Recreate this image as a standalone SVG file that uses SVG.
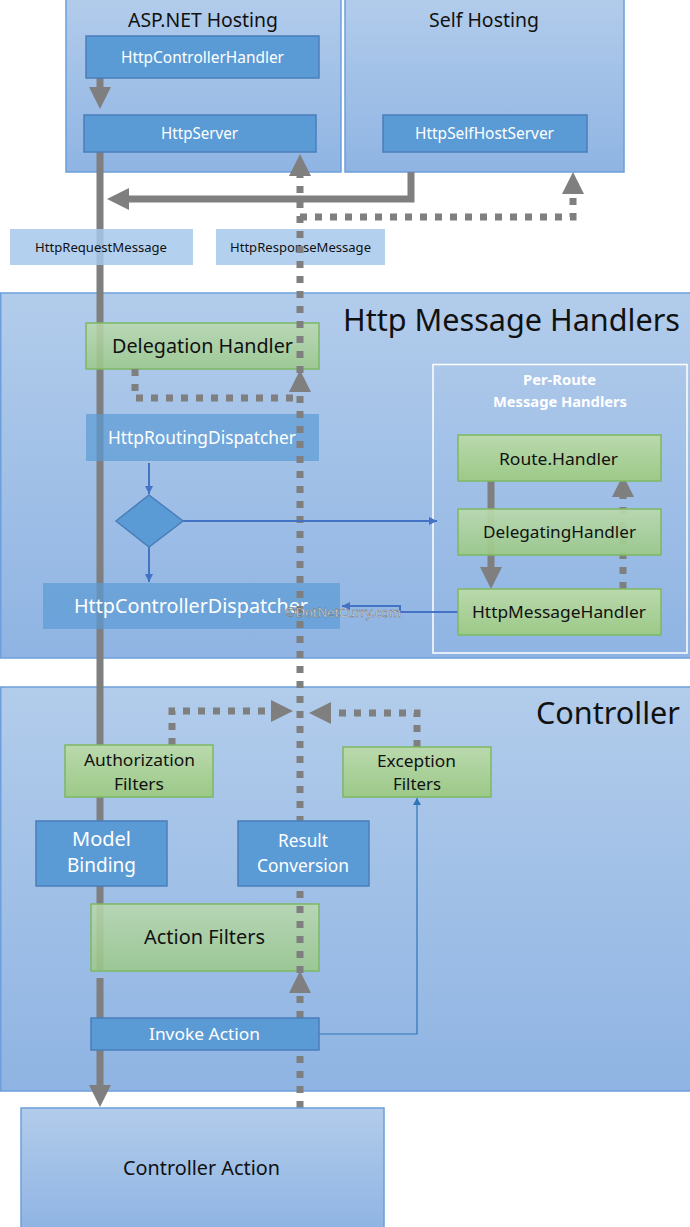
<svg xmlns="http://www.w3.org/2000/svg" xmlns:xlink="http://www.w3.org/1999/xlink" width="690" height="1227" viewBox="0 0 690 1227">
<defs>
<linearGradient id="gRegion" x1="0" y1="0" x2="0" y2="1">
<stop offset="0" stop-color="#b2cceb"/><stop offset="1" stop-color="#8fb4e3"/>
</linearGradient>
<linearGradient id="gGreen" x1="0" y1="0" x2="0" y2="1">
<stop offset="0" stop-color="#bad9ad"/><stop offset="1" stop-color="#9cc988"/>
</linearGradient>
<marker id="ah" markerUnits="userSpaceOnUse" markerWidth="22" markerHeight="22" viewBox="0 0 22 22" refX="0" refY="11" orient="auto">
<path d="M0,0 L22,11 L0,22 z" fill="#7f7f7f"/>
</marker>
<marker id="bh" markerUnits="userSpaceOnUse" markerWidth="8" markerHeight="8" viewBox="0 0 8 8" refX="8" refY="4" orient="auto">
<path d="M0,0 L8,4 L0,8 z" fill="#4472c4"/>
</marker>
<marker id="bh2" markerUnits="userSpaceOnUse" markerWidth="7" markerHeight="8" viewBox="0 0 7 8" refX="7" refY="4" orient="auto">
<path d="M0,0 L7,4 L0,8 z" fill="#2e75b6"/>
</marker>
<polygon id="headUp" points="-11,0 0,-22 11,0" fill="#7f7f7f"/>
<style>
.region{fill:url(#gRegion);stroke:#6c9fdc;stroke-width:1.5}
.blue{fill:#5b9bd5;stroke:#4a7ebb;stroke-width:1.5}
.blueSemi{fill:#5b9bd5;fill-opacity:0.7;stroke:none}
.green{fill:url(#gGreen);stroke:#7db863;stroke-width:1.5}
.greenSemi{fill:url(#gGreen);fill-opacity:0.85;stroke:#7db863;stroke-width:1.5}
.msg{fill:#a7c8ec;fill-opacity:0.85;stroke:none}
.solid{fill:none;stroke:#7f7f7f;stroke-width:7}
.dot{fill:none;stroke:#7f7f7f;stroke-width:7;stroke-dasharray:7 8}
.thin{fill:none;stroke:#4472c4;stroke-width:2}
.thin2{fill:none;stroke:#2e75b6;stroke-width:1.2}
text{font-family:"Noto Sans","Liberation Sans",sans-serif}
.t{fill:#111}
.w{fill:#ffffff}
</style>
</defs>

<g id="region-aspnet">
<rect class="region" x="66" y="-2" width="275" height="174"/>
<text class="t" x="128" y="27" font-size="20" textLength="150" lengthAdjust="spacingAndGlyphs">ASP.NET Hosting</text>
</g>
<g id="region-self">
<rect class="region" x="345" y="-2" width="279" height="174"/>
<text class="t" x="429" y="27" font-size="20" textLength="110" lengthAdjust="spacingAndGlyphs">Self Hosting</text>
</g>
<g id="region-handlers">
<rect class="region" x="0.75" y="293" width="692" height="365"/>
<text class="t" x="343" y="331" font-size="31" textLength="337" lengthAdjust="spacingAndGlyphs">Http Message Handlers</text>
</g>
<g id="region-perroute">
<rect x="433" y="364.5" width="254" height="288.5" fill="none" stroke="#ffffff" stroke-width="1.5"/>
<text class="w" x="523" y="385" font-size="14" font-weight="bold" textLength="73" lengthAdjust="spacingAndGlyphs">Per-Route</text>
<text class="w" x="493" y="407" font-size="14" font-weight="bold" textLength="134" lengthAdjust="spacingAndGlyphs">Message Handlers</text>
</g>
<g id="region-controller">
<rect class="region" x="0.75" y="687" width="692" height="404"/>
<text class="t" x="536" y="724" font-size="31" textLength="144" lengthAdjust="spacingAndGlyphs">Controller</text>
</g>

<g id="connectors-request">
<path class="solid" d="M100,78 V87" marker-end="url(#ah)"/>
<path class="solid" d="M100,152 V971 M100,978 V1085" marker-end="url(#ah)"/>
<path class="solid" d="M411,172 V199 H129" marker-end="url(#ah)"/>
<path class="solid" d="M491,481 V567" marker-end="url(#ah)"/>
<path class="dot" d="M623,589 V497" marker-end="url(#ah)"/>
</g>

<g id="node-httprequestmessage">
<rect class="msg" x="10" y="229" width="183" height="36"/>
<text class="t" x="35" y="252" font-size="13" textLength="132" lengthAdjust="spacingAndGlyphs">HttpRequestMessage</text>
</g>
<g id="node-httpresponsemessage">
<rect class="msg" x="216" y="229" width="169" height="36"/>
<text class="t" x="230" y="252" font-size="13" textLength="141" lengthAdjust="spacingAndGlyphs">HttpResponseMessage</text>
</g>
<g id="node-delegationhandler">
<rect class="greenSemi" x="86" y="323" width="233" height="46"/>
<text class="t" x="112" y="353" font-size="19" textLength="181" lengthAdjust="spacingAndGlyphs">Delegation Handler</text>
</g>
<g id="node-httproutingdispatcher">
<rect class="blueSemi" x="86" y="414" width="233" height="47"/>
<text class="w" x="108" y="444" font-size="18" textLength="188" lengthAdjust="spacingAndGlyphs">HttpRoutingDispatcher</text>
</g>
<g id="node-httpcontrollerdispatcher">
<rect class="blueSemi" x="43" y="583" width="297" height="46"/>
<text class="w" x="74" y="613" font-size="20" textLength="234" lengthAdjust="spacingAndGlyphs">HttpControllerDispatcher</text>
</g>
<g id="node-delegatinghandler">
<rect class="greenSemi" x="458" y="509" width="203" height="46" style="fill-opacity:0.92"/>
<text class="t" x="483" y="538" font-size="17" textLength="153" lengthAdjust="spacingAndGlyphs">DelegatingHandler</text>
</g>
<g id="node-actionfilters">
<rect class="greenSemi" x="91" y="904" width="228" height="67"/>
<text class="t" x="144" y="944" font-size="20" textLength="121" lengthAdjust="spacingAndGlyphs">Action Filters</text>
</g>

<g id="connectors-response">
<path class="dot" d="M300,1108 V176" marker-end="url(#ah)"/>
<path class="dot" d="M300,217 H573 V194" marker-end="url(#ah)"/>
<path class="dot" d="M135,369 V398 H300"/>
<use xlink:href="#headUp" href="#headUp" x="300" y="392"/>
<use xlink:href="#headUp" href="#headUp" x="300" y="993"/>
<path class="dot" d="M172,745 V711 H271" marker-end="url(#ah)"/>
<path class="dot" d="M417,747 V713 H331" marker-end="url(#ah)"/>
<path class="thin" d="M149,463 V494" marker-end="url(#bh)"/>
<path class="thin" d="M183,521 H437" marker-end="url(#bh)"/>
<path class="thin" d="M149,547 V582" marker-end="url(#bh)"/>
<path class="thin" d="M458,612 H400 V606 H342" marker-end="url(#bh)"/>
<path class="thin2" d="M319,1034 H417 V798" marker-end="url(#bh2)"/>
</g>

<g id="node-diamond">
<polygon class="blue" points="149,495 183,521 149,547 116,521"/>
</g>
<g id="watermark">
<text x="285" y="617" font-size="12" fill="#ffffff" stroke="#555555" stroke-width="0.4" textLength="116" lengthAdjust="spacingAndGlyphs">©DotNetCurry.com</text>
</g>
<g id="node-httpcontrollerhandler">
<rect class="blue" x="86" y="36" width="233" height="42"/>
<text class="w" x="121" y="63" font-size="16" textLength="163" lengthAdjust="spacingAndGlyphs">HttpControllerHandler</text>
</g>
<g id="node-httpserver">
<rect class="blue" x="84" y="115" width="232" height="37"/>
<text class="w" x="161" y="139" font-size="16" textLength="77" lengthAdjust="spacingAndGlyphs">HttpServer</text>
</g>
<g id="node-httpselfhostserver">
<rect class="blue" x="383" y="115" width="204" height="37"/>
<text class="w" x="415" y="139" font-size="16" textLength="139" lengthAdjust="spacingAndGlyphs">HttpSelfHostServer</text>
</g>
<g id="node-routehandler">
<rect class="green" x="458" y="435" width="203" height="46"/>
<text class="t" x="499" y="465" font-size="17" textLength="119" lengthAdjust="spacingAndGlyphs">Route.Handler</text>
</g>
<g id="node-httpmessagehandler">
<rect class="green" x="458" y="589" width="203" height="46"/>
<text class="t" x="472" y="618" font-size="17" textLength="174" lengthAdjust="spacingAndGlyphs">HttpMessageHandler</text>
</g>
<g id="node-authorizationfilters">
<rect class="green" x="65" y="745" width="148" height="52"/>
<text class="t" x="84" y="766" font-size="17" textLength="111" lengthAdjust="spacingAndGlyphs">Authorization</text>
<text class="t" x="114" y="790" font-size="17" textLength="50" lengthAdjust="spacingAndGlyphs">Filters</text>
</g>
<g id="node-exceptionfilters">
<rect class="green" x="343" y="747" width="148" height="50"/>
<text class="t" x="377" y="767" font-size="17" textLength="79" lengthAdjust="spacingAndGlyphs">Exception</text>
<text class="t" x="393" y="790" font-size="17" textLength="48" lengthAdjust="spacingAndGlyphs">Filters</text>
</g>
<g id="node-modelbinding">
<rect class="blue" x="36" y="821" width="131" height="65"/>
<text class="w" x="72" y="846" font-size="19" textLength="59" lengthAdjust="spacingAndGlyphs">Model</text>
<text class="w" x="67" y="872" font-size="19" textLength="69" lengthAdjust="spacingAndGlyphs">Binding</text>
</g>
<g id="node-resultconversion">
<rect class="blue" x="238" y="821" width="131" height="65"/>
<text class="w" x="278" y="847" font-size="18" textLength="50" lengthAdjust="spacingAndGlyphs">Result</text>
<text class="w" x="257" y="872" font-size="18" textLength="92" lengthAdjust="spacingAndGlyphs">Conversion</text>
</g>
<g id="node-invokeaction">
<rect class="blue" x="91" y="1018" width="228" height="32"/>
<text class="w" x="149" y="1040" font-size="17" textLength="111" lengthAdjust="spacingAndGlyphs">Invoke Action</text>
</g>
<g id="node-controlleraction">
<rect class="region" x="21" y="1108" width="363" height="122"/>
<text class="t" x="123" y="1175" font-size="19" textLength="157" lengthAdjust="spacingAndGlyphs">Controller Action</text>
</g>
</svg>
